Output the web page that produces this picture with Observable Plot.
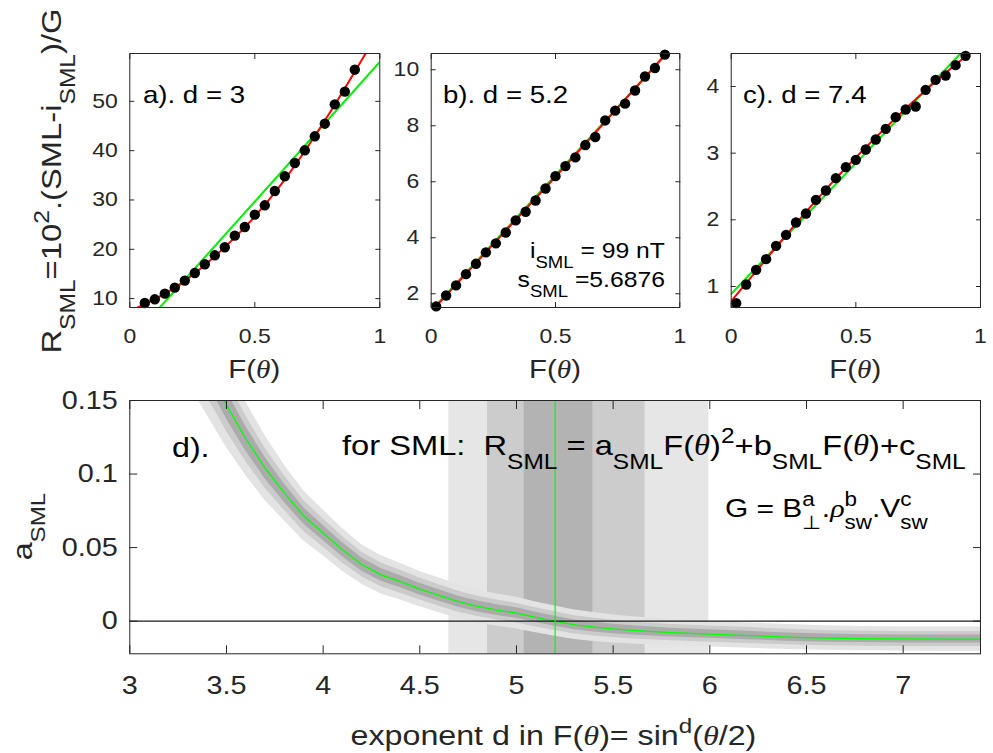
<!DOCTYPE html>
<html><head><meta charset="utf-8">
<script src="https://cdn.jsdelivr.net/npm/d3@7"></script>
<script src="https://cdn.jsdelivr.net/npm/@observablehq/plot@0.6"></script>
<style>
html,body{margin:0;padding:0;background:#fff;}
#chart{position:relative;width:993px;height:753px;overflow:hidden;background:#fff;}
</style></head><body><div id="chart"></div>
<script>
// ---------------- data ----------------
const ticksF = [0, 0.5, 1];

const panelA_F = [0.06,0.10,0.14,0.18,0.22,0.26,0.30,0.34,0.38,0.42,0.46,0.50,0.54,0.58,0.62,0.66,0.70,0.74,0.78,0.82,0.86,0.90];
const panelA_R = [9.12,9.86,11.01,12.23,13.65,15.20,16.96,18.78,20.41,22.77,24.53,27.03,28.92,31.82,34.80,37.50,40.07,42.91,45.47,49.39,51.96,56.42];
const fitA_redF = [0.032,0.2,0.4,0.6,0.8,0.943];
const fitA_redR = [8.2,12.9,21.4,32.8,47.7,59.7];
const fitA_greenF = [0.12,1];
const fitA_greenR = [8.2,57.97];
const yDomainA = [8.2,59.7];
const yTicksA = [10,20,30,40,50];

const panelB_F = [0.02,0.06,0.10,0.14,0.18,0.22,0.26,0.30,0.34,0.38,0.42,0.46,0.50,0.54,0.58,0.62,0.66,0.70,0.74,0.78,0.82,0.86,0.90,0.94];
const panelB_R = [1.55,1.94,2.30,2.70,3.07,3.48,3.80,4.19,4.62,4.93,5.33,5.76,6.20,6.56,6.87,7.31,7.60,8.19,8.54,8.79,9.26,9.76,10.06,10.54];
const fitB_redF = [0.015,0.5,0.945];
const fitB_redR = [1.51,6.18,10.58];
const fitB_greenF = [0.012,0.948];
const fitB_greenR = [1.51,10.58];
const yDomainB = [1.51,10.58];
const yTicksB = [2,4,6,8,10];

const panelC_F = [0.02,0.06,0.10,0.14,0.18,0.22,0.26,0.30,0.34,0.38,0.42,0.46,0.50,0.54,0.58,0.62,0.66,0.70,0.74,0.78,0.82,0.86,0.90,0.94];
const panelC_R = [0.75,1.03,1.25,1.41,1.61,1.775,1.96,2.095,2.30,2.44,2.625,2.79,2.90,3.055,3.205,3.365,3.54,3.655,3.70,3.95,4.10,4.165,4.32,4.46];
const fitC_redF = [0,0.2,0.4,0.6,0.8,0.955];
const fitC_redR = [0.78,1.68,2.54,3.31,4.01,4.495];
const fitC_greenF = [0,0.92];
const fitC_greenR = [0.89,4.495];
const yDomainC = [0.685,4.495];
const yTicksC = [1,2,3,4];

// bottom panel: a_SML versus exponent d
const xDomainD = [3,7.4];
const yDomainD = [-0.0222,0.15];
const xTicksD = [3,3.5,4,4.5,5,5.5,6,6.5,7];
const yTicksD = [0,0.05,0.1,0.15];
const dGrid = [3.35,3.40,3.45,3.50,3.60,3.70,3.80,3.90,4.00,4.10,4.20,4.30,4.40,4.50,4.60,4.70,4.80,4.90,5.00,5.10,5.20,5.30,5.40,5.50,5.60,5.80,6.00,6.20,6.40,6.60,6.80,7.00,7.20,7.40];
const aMed = [0.185,0.172,0.160,0.147,0.124,0.104,0.087,0.0715,0.060,0.0485,0.0385,0.0315,0.0268,0.0218,0.0175,0.0132,0.0100,0.0075,0.0055,0.0026,0.0000,-0.0025,-0.0040,-0.0053,-0.0063,-0.0078,-0.0088,-0.0098,-0.0108,-0.0115,-0.0119,-0.0121,-0.0122,-0.0122];
const hi3 = [0.219,0.204,0.191,0.176,0.149,0.126,0.106,0.0885,0.0755,0.063,0.052,0.0445,0.0393,0.0338,0.0293,0.0247,0.0212,0.0185,0.0163,0.0131,0.0103,0.0075,0.0058,0.0042,0.0030,0.0012,0.0000,-0.0012,-0.0023,-0.0032,-0.0037,-0.0039,-0.0040,-0.0040];
const hi2 = [0.206,0.192,0.179,0.165,0.1395,0.1176,0.0988,0.082,0.0696,0.0575,0.0469,0.0396,0.0346,0.0293,0.0248,0.0203,0.0169,0.0143,0.0122,0.0091,0.0064,0.0037,0.0021,0.0006,-0.0005,-0.0022,-0.0033,-0.0044,-0.0055,-0.0063,-0.0068,-0.0070,-0.0071,-0.0071];
const hi1 = [0.196,0.1825,0.170,0.1565,0.1323,0.1113,0.0933,0.0771,0.0651,0.0533,0.043,0.0358,0.0309,0.0258,0.0214,0.017,0.0137,0.0111,0.0091,0.0061,0.0034,0.0008,-0.0007,-0.0021,-0.0032,-0.0048,-0.0059,-0.0069,-0.0080,-0.0087,-0.0092,-0.0094,-0.0095,-0.0095];
const lo1 = [0.174,0.1615,0.150,0.1375,0.1157,0.0967,0.0807,0.0659,0.0549,0.0437,0.034,0.0272,0.0227,0.0178,0.0136,0.0094,0.0063,0.0039,0.0019,-0.0009,-0.0034,-0.0058,-0.0073,-0.0085,-0.0094,-0.0108,-0.0117,-0.0127,-0.0136,-0.0143,-0.0146,-0.0148,-0.0149,-0.0149];
const lo2 = [0.164,0.152,0.141,0.129,0.1085,0.0904,0.0752,0.061,0.0504,0.0395,0.0301,0.0234,0.019,0.0143,0.0102,0.0061,0.0031,0.0007,-0.0012,-0.0039,-0.0064,-0.0087,-0.0101,-0.0112,-0.0121,-0.0134,-0.0143,-0.0152,-0.0161,-0.0167,-0.0170,-0.0172,-0.0173,-0.0173];
const lo3 = [0.151,0.140,0.129,0.118,0.099,0.082,0.068,0.0545,0.0445,0.034,0.025,0.0185,0.0143,0.0098,0.0057,0.0017,-0.0012,-0.0035,-0.0053,-0.0079,-0.0103,-0.0125,-0.0138,-0.0148,-0.0156,-0.0168,-0.0176,-0.0184,-0.0193,-0.0198,-0.0201,-0.0203,-0.0204,-0.0204];
const bandLo = [4.65,4.85,5.04];
const bandHi = [5.995,5.665,5.395];
const bandColors = ["#e6e6e6","#cccccc","#b3b3b3"];
const envColors = ["#e3e3e3","#cbcbcb","#ababab"];
const dBest = [5.2];

// ---------------- drawing ----------------
const FONT = "'Liberation Sans', Arial, Helvetica, sans-serif";
const SERIF = "'Liberation Serif', 'DejaVu Serif', serif";
const SX = 1.15;
const chart = document.getElementById("chart");
const fmt = d => `${d}`;

// widen tick labels horizontally (the reference font is wider than Arial); keep y/dy untouched
function stretchTicks(svg) {
  d3.select(svg).selectAll('g[aria-label$="tick label"] text').each(function () {
    const el = d3.select(this);
    const xa = el.attr("x");
    const x = xa != null && isFinite(+xa) ? +xa : 0;
    if (xa != null && isFinite(+xa)) el.attr("x", null);
    const t = el.attr("transform") || "";
    el.attr("transform", `${t} translate(${x},0) scale(${SX},1)`);
  });
}
function place(svg, left, top) {
  svg.style.position = "absolute";
  svg.style.left = left + "px";
  svg.style.top = top + "px";
  chart.appendChild(svg);
  stretchTicks(svg);
}

function topPanel(o) {
  const fs = 20;
  return Plot.plot({
    width: o.width, height: 390,
    marginLeft: o.marginLeft, marginRight: o.marginRight, marginTop: 53, marginBottom: 83,
    style: {fontFamily: FONT, fontSize: fs + "px", color: "#262626", background: "none", overflow: "visible"},
    x: {domain: [0, 1]},
    y: {domain: o.yDomain},
    marks: [
      Plot.line(o.greenF, {x: o.greenF, y: o.greenR, stroke: "#00ee00", strokeWidth: 2, clip: true}),
      Plot.line(o.redF, {x: o.redF, y: o.redR, stroke: "#ff0000", strokeWidth: 2, curve: "natural", clip: true}),
      Plot.dot(o.F, {x: o.F, y: o.R, r: 5.2, fill: "#000", stroke: "none"}),
      Plot.frame({stroke: "#262626"}),
      Plot.axisX(ticksF, {anchor: "bottom", tickSize: -5, tickPadding: 26, label: null, tickFormat: fmt, fontSize: fs}),
      Plot.axisX(ticksF, {anchor: "top", tickSize: -5, tickFormat: () => "", label: null}),
      Plot.axisY(o.yTicks, {anchor: "left", tickSize: -5, tickPadding: 17, label: null, tickFormat: fmt, fontSize: fs}),
      Plot.axisY(o.yTicks, {anchor: "right", tickSize: -5, tickFormat: () => "", label: null})
    ]
  });
}

place(topPanel({width: 390, marginLeft: 129.3, marginRight: 10.7, yDomain: yDomainA, yTicks: yTicksA,
  F: panelA_F, R: panelA_R, redF: fitA_redF, redR: fitA_redR, greenF: fitA_greenF, greenR: fitA_greenR}), 0, 0);
place(topPanel({width: 300, marginLeft: 40.7, marginRight: 10.7, yDomain: yDomainB, yTicks: yTicksB,
  F: panelB_F, R: panelB_R, redF: fitB_redF, redR: fitB_redR, greenF: fitB_greenF, greenR: fitB_greenR}), 390, 0);
place(topPanel({width: 303, marginLeft: 40.7, marginRight: 13, yDomain: yDomainC, yTicks: yTicksC,
  F: panelC_F, R: panelC_R, redF: fitC_redF, redR: fitC_redR, greenF: fitC_greenF, greenR: fitC_greenR}), 690, 0);

const fsB = 25;
const bottom = Plot.plot({
  width: 993, height: 373,
  marginLeft: 129.3, marginRight: 13, marginTop: 20, marginBottom: 99.7,
  style: {fontFamily: FONT, fontSize: fsB + "px", color: "#262626", background: "none", overflow: "visible"},
  x: {domain: xDomainD},
  y: {domain: yDomainD},
  marks: [
    ...bandLo.map((lo, i) => Plot.rect([i], {x1: [lo], x2: [bandHi[i]], y1: [yDomainD[0]], y2: [yDomainD[1]], fill: bandColors[i]})),
    Plot.areaY(dGrid, {x: dGrid, y1: lo3, y2: hi3, fill: envColors[0], clip: true}),
    Plot.areaY(dGrid, {x: dGrid, y1: lo2, y2: hi2, fill: envColors[1], clip: true}),
    Plot.areaY(dGrid, {x: dGrid, y1: lo1, y2: hi1, fill: envColors[2], clip: true}),
    Plot.line(dGrid, {x: dGrid, y: aMed, stroke: "#00ff00", strokeWidth: 1.3, clip: true}),
    Plot.ruleY([0], {stroke: "#1a1a1a", strokeWidth: 1.3}),
    Plot.ruleX(dBest, {stroke: "#00ff00", strokeWidth: 1.2}),
    Plot.frame({stroke: "#262626"}),
    Plot.axisX(xTicksD, {anchor: "bottom", tickSize: -8, tickPadding: 30, label: null, tickFormat: fmt, fontSize: fsB}),
    Plot.axisX(xTicksD, {anchor: "top", tickSize: -8, tickFormat: () => "", label: null}),
    Plot.axisY(yTicksD, {anchor: "left", tickSize: -8, tickPadding: 20, label: null, tickFormat: fmt, fontSize: fsB}),
    Plot.axisY(yTicksD, {anchor: "right", tickSize: -8, tickFormat: () => "", label: null})
  ]
});
place(bottom, 0, 380);

// ---------------- text overlay ----------------
const overlay = d3.create("svg").attr("width", 993).attr("height", 753)
  .style("position", "absolute").style("left", "0px").style("top", "0px").style("overflow", "visible");
chart.appendChild(overlay.node());

function richText(parts, {x, y, size, anchor = "start", rotate = 0, fill = "#000"}) {
  const g = overlay.append("g").attr("fill", fill).attr("font-family", FONT);
  const inner = g.append("g");
  let cx = 0;
  const add = (str, px, dy, fs, italic) => {
    const t = inner.append("text").attr("x", px).attr("y", dy).attr("font-size", fs)
      .style("white-space", "pre").text(str);
    if (italic) t.attr("font-style", "italic").attr("font-family", SERIF);
    return t.node().getComputedTextLength();
  };
  for (const p of parts) {
    if (typeof p === "string") cx += add(p, cx, 0, size, false);
    else if (p.it) cx += add(p.it, cx, 0, size, true);
    else {
      const fs = size * 0.75;
      let w = 0;
      if (p.sup) w = Math.max(w, add(p.sup, cx, -0.42 * size, fs, false));
      if (p.sub) w = Math.max(w, add(p.sub, cx, 0.48 * size, fs, false));
      cx += w;
    }
  }
  const off = anchor === "middle" ? -cx / 2 : anchor === "end" ? -cx : 0;
  inner.attr("transform", `translate(${off},0)`);
  g.attr("transform", `translate(${x},${y}) rotate(${rotate}) scale(${SX},1)`);
}

const AX = "#262626";
richText(["R", {sub: "SML"}, "=10", {sup: "2"}, ".(SML-i", {sub: "SML"}, ")/G"], {x: 61, y: 181, size: 28.5, anchor: "middle", rotate: -90, fill: AX});
[254.3, 555, 855.3].forEach(cx => richText(["F(", {it: "θ"}, ")"], {x: cx, y: 378, size: 25.5, anchor: "middle", fill: AX}));
richText(["a). d = 3"], {x: 143, y: 103, size: 24});
richText(["b). d = 5.2"], {x: 443, y: 103, size: 24});
richText(["c). d = 7.4"], {x: 743, y: 103, size: 24});
richText(["i", {sub: "SML"}, " = 99 nT"], {x: 665, y: 258, size: 21.5, anchor: "end"});
richText(["s", {sub: "SML"}, " =5.6876"], {x: 665, y: 287, size: 21.5, anchor: "end"});
richText(["d)."], {x: 172, y: 457, size: 28});
richText(["for SML:  R", {sub: "SML"}, " = a", {sub: "SML"}, "F(", {it: "θ"}, ")", {sup: "2"}, "+b", {sub: "SML"}, "F(", {it: "θ"}, ")+c", {sub: "SML"}], {x: 342, y: 455, size: 28.4});
richText(["G = B", {sup: "a", sub: "⊥"}, ".", {it: "ρ"}, {sup: "b", sub: "sw"}, ".V", {sup: "c", sub: "sw"}], {x: 725, y: 517, size: 26});
richText(["exponent d in F(", {it: "θ"}, ")= sin", {sup: "d"}, "(", {it: "θ"}, "/2)"], {x: 553.5, y: 745, size: 28, anchor: "middle", fill: AX});
richText(["a", {sub: "SML"}], {x: 32, y: 526.5, size: 28, anchor: "middle", rotate: -90, fill: AX});
</script></body></html>
